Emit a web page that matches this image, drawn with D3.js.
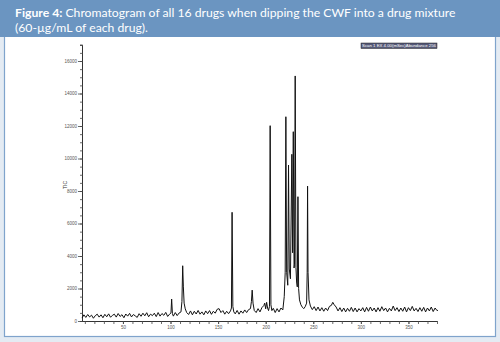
<!DOCTYPE html>
<html><head><meta charset="utf-8">
<script src="https://cdn.jsdelivr.net/npm/d3@7/dist/d3.min.js"></script>
<style>html,body{margin:0;padding:0;background:#e4ebf3;}svg{display:block;}</style>
</head><body>
<script>
// ---- data ----
const titleBold = "Figure 4:";
const titleLine1 = " Chromatogram of all 16 drugs when dipping the CWF into a drug mixture";
const titleLine2 = "(60-µg/mL of each drug).";
const yLabel = "TIC";
const legendText = "Scan 1 EX 4.00(mSec)Abundance 256";
const xMajorTicks = [50, 100, 150, 200, 250, 300, 350];
const yMajorTicks = [0, 2000, 4000, 6000, 8000, 10000, 12000, 14000, 16000];
const rt = [7,9,11,13,15,17,19,21,23,25,27,29,31,33,35,37,39,41,43,45,47,49,51,53,55,57,59,61,63,65,67,69,71,73,75,77,79,81,83,85,87,89,91,93,95,97,99,
  100.5,101.2,102,103,105,107,109,111,112,112.8,113.5,114.3,115.5,117,119,121,123,125,127,129,131,133,135,137,139,141,143,145,147,149,151,153,155,157,159,161,163,
  164,164.7,165.5,166.5,168,170,172,174,176,178,180,182,184,185,185.8,186.7,188,190,192,194,196,198,199,200,201,202,203,204,204.7,205.5,206.5,208,210,212,214,216,218,
  219.5,220.5,221.2,222,223.2,224,224.8,226,227.5,228.3,229,229.8,230.3,231,231.8,232.5,233.2,233.9,234.6,235.5,237,238.5,240,241.5,243,243.6,244,244.5,245.5,247,249,
  251,253,255,257,259,261,263,265,267,269,270.5,272,274,276,278,280,282,284,286,288,290,292,294,296,298,300,302,304,306,308,310,312,314,316,318,320,322,324,326,328,
  330,332,334,336,338,340,342,344,346,348,350,352,354,356,358,360,362,364,366,368,370,372,374,376,378,380,381];
const tic = [180,380,220,400,250,360,170,330,420,240,380,200,410,260,440,230,350,420,240,460,280,390,200,430,300,470,250,400,310,220,450,290,480,320,510,260,420,330,480,270,520,300,460,350,530,280,420,
  500,1350,450,300,520,330,490,560,1200,3400,2100,1100,750,520,400,620,380,600,430,650,420,560,380,620,450,640,410,600,480,720,760,520,640,420,600,450,620,
  800,6690,900,560,440,650,420,620,480,680,520,700,760,1200,1900,1100,650,520,760,560,820,950,1100,750,1150,800,640,900,12020,1000,640,780,520,760,560,800,680,
  1500,3000,12570,3000,2200,9600,3200,2600,10260,4200,11650,3260,3500,15080,3300,2400,2100,7650,2000,1300,1000,850,760,880,1100,3000,8300,3000,1300,920,700,
  880,640,860,620,820,600,800,640,900,960,1150,1000,860,620,820,580,800,560,780,600,840,580,800,560,760,620,820,560,840,600,860,620,800,560,820,600,880,640,
  800,560,780,620,920,640,820,580,800,600,860,560,820,640,900,620,780,580,820,600,840,560,800,620,860,580,800,640,660];

// ---- layout ----
const W = 500, H = 342;
const svg = d3.select("body").append("svg").attr("width", W).attr("height", H);

svg.append("rect").attr("x", 0).attr("y", 0).attr("width", W).attr("height", H).attr("fill", "#e4ebf3");
svg.append("rect").attr("x", 4.5).attr("y", 30).attr("width", 491).attr("height", 306.5)
  .attr("fill", "#ffffff").attr("stroke", "#7fa3cc").attr("stroke-width", 1.2);
svg.append("rect").attr("x", 0).attr("y", 0).attr("width", W).attr("height", 37).attr("fill", "#6b95c1");

const titleFont = "Lato, 'Open Sans', sans-serif";
const t1 = svg.append("text").attr("x", 15).attr("y", 17).attr("fill", "#fff")
  .attr("font-family", titleFont).attr("font-size", 12.2);
t1.append("tspan").attr("font-weight", "bold").text(titleBold);
t1.append("tspan").text(titleLine1);
svg.append("text").attr("x", 15).attr("y", 32).attr("fill", "#fff")
  .attr("font-family", titleFont).attr("font-size", 12.2).text(titleLine2);

const x = d3.scaleLinear().domain([7, 380]).range([82, 437]);
const y = d3.scaleLinear().domain([0, 17000]).range([321, 44.75]);

const axisFont = "Liberation Sans, Arial, sans-serif";
// y axis
const gy = svg.append("g").attr("transform", "translate(82,0)");
gy.call(d3.axisLeft(y).tickValues(d3.range(0, 17001, 500)).tickSize(2).tickFormat(""));
gy.call(g => g.selectAll(".tick line").attr("x1", 1));
gy.append("g").call(d3.axisLeft(y).tickValues(yMajorTicks).tickSize(4).tickPadding(1).tickFormat(d3.format("d")))
  .call(g => g.select(".domain").remove());
gy.selectAll("text").attr("font-size", 4.5).attr("font-family", axisFont).attr("fill", "#555");
gy.selectAll("line, path").attr("stroke", "#444").attr("stroke-width", 0.8);
gy.select(".domain").attr("stroke", "#333").attr("stroke-width", 1);

// x axis
const gx = svg.append("g").attr("transform", "translate(0,321)");
gx.call(d3.axisBottom(x).tickValues(d3.range(10, 381, 10)).tickSize(3).tickSizeOuter(0).tickFormat(""));
gx.append("g").call(d3.axisBottom(x).tickValues(xMajorTicks).tickSize(3).tickPadding(2).tickFormat(d3.format("d")))
  .call(g => g.select(".domain").remove());
gx.selectAll("text").attr("font-size", 4.5).attr("font-family", axisFont).attr("fill", "#555");
gx.selectAll("line, path").attr("stroke", "#444").attr("stroke-width", 0.8);
gx.select(".domain").attr("stroke", "#333").attr("stroke-width", 1);

svg.append("text").attr("transform", "translate(67,185) rotate(-90)").attr("text-anchor", "middle")
  .attr("font-size", 5).attr("font-family", axisFont).attr("fill", "#333").text(yLabel);

// legend box
svg.append("rect").attr("x", 361).attr("y", 43).attr("width", 76).attr("height", 5.5)
  .attr("fill", "#565a78").attr("stroke", "#222").attr("stroke-width", 0.5);
svg.append("text").attr("x", 399).attr("y", 47.3).attr("text-anchor", "middle").attr("fill", "#fff")
  .attr("font-size", 4.3).attr("font-family", axisFont).text(legendText);

// trace
const pts = rt.map((t, i) => [t, tic[i]]);
svg.append("path").datum(pts)
  .attr("d", d3.line().x(d => x(d[0])).y(d => y(d[1])))
  .attr("fill", "none").attr("stroke", "#111").attr("stroke-width", 1).attr("stroke-linejoin", "round");
</script>
</body></html>
